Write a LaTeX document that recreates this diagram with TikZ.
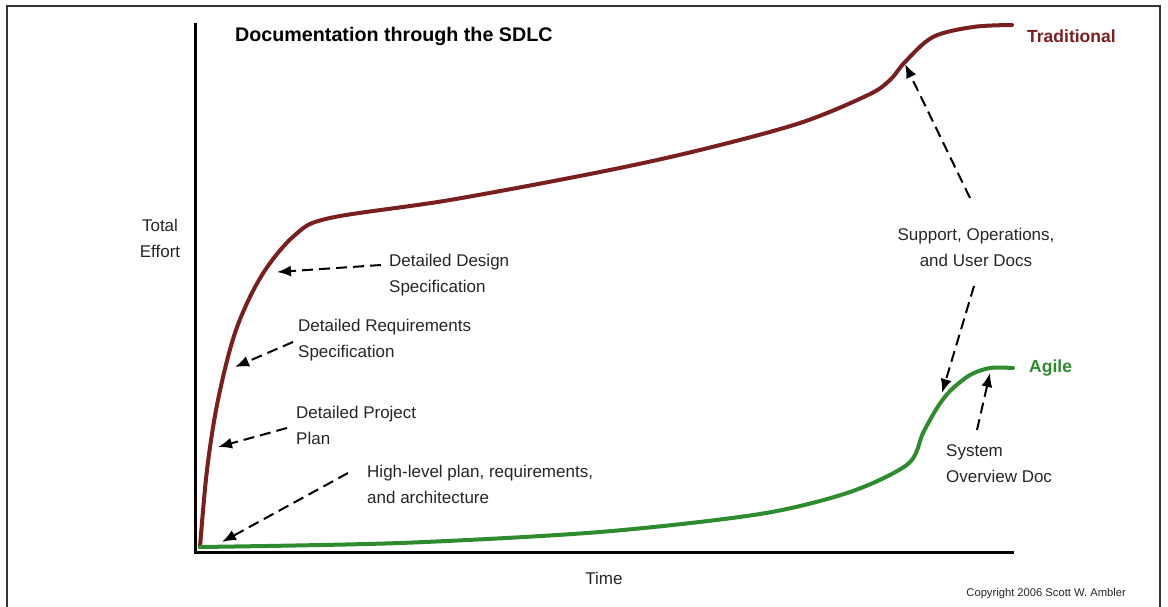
\documentclass[tikz,border=0pt]{standalone}
\usepackage{fontspec}
\setmainfont{Liberation Sans}
\usetikzlibrary{arrows.meta}
\definecolor{tradred}{HTML}{7A1F1F}
\definecolor{agilegreen}{HTML}{2E8B2E}
\definecolor{framegray}{HTML}{333333}
\begin{document}
\begin{tikzpicture}[x=1pt,y=-1pt,
  lbl/.style={align=left,inner sep=0pt,font=\fontsize{17}{26}\selectfont,text=black!85},
  callout/.style={draw=black,line width=2pt,dash pattern=on 11pt off 6pt,
    -{Latex[length=14pt,width=11pt]}},
  curve/.style={line width=4pt,line cap=round}]
\useasboundingbox (0,0) rectangle (1168,607);
% outer frame
\draw[framegray,line width=2pt] (7,612) -- (7,6) -- (1160,6) -- (1160,612);
% axes
\draw[line width=3pt] (195,23) -- (195,552) -- (1014,552);
% traditional curve
\draw[curve,tradred] plot[smooth,tension=0.55] coordinates {
  (200,547) (207,470) (218,400) (236,330) (262,275) (295,235) (330,218)
  (450,200) (600,172) (700,150) (800,123) (868,95) (890,80) (905,62)
  (933,37) (973,27) (1012,25)};
% agile curve
\draw[curve,agilegreen] plot[smooth,tension=0.5] coordinates {
  (200,547) (400,543) (600,532) (760,514) (850,492) (908,464)
  (923,433) (937,408) (950,391) (970,375) (990,368) (1013,368)};
% points on the curves that the callouts point at
\coordinate (tipPlan) at (218,447);
\coordinate (tipReq) at (235,367);
\coordinate (tipDes) at (277,272);
\coordinate (tipHigh) at (222,542);
\coordinate (tipTrad) at (905,64);
\coordinate (tipAgile) at (942,393);
\coordinate (tipSys) at (990,373);
% texts
\node[anchor=west,inner sep=0pt,font=\fontsize{19.7}{22}\selectfont\bfseries] (title) at (235,36) {Documentation through the SDLC};
\node[anchor=west,inner sep=0pt,font=\fontsize{17.5}{20}\selectfont\bfseries,text=tradred] (trad) at (1027,36) {Traditional};
\node[anchor=west,inner sep=0pt,font=\fontsize{17.5}{20}\selectfont\bfseries,text=agilegreen] (agile) at (1029,368) {Agile};
\node[lbl,align=center] (effort) at (160,238) {Total\\Effort};
\node[lbl] (time) at (604,578) {Time};
\node[lbl,anchor=west] (des) at (389,275) {Detailed Design\\Specification};
\node[lbl,anchor=west] (req) at (298,340) {Detailed Requirements\\Specification};
\node[lbl,anchor=west] (plan) at (296,425) {Detailed Project\\Plan};
\node[lbl,anchor=west] (high) at (367,484) {High-level plan, requirements,\\and architecture};
\node[lbl,align=center] (sup) at (976,247) {Support, Operations,\\and User Docs};
\node[lbl,anchor=west] (sys) at (946,464) {System\\Overview Doc};
\node[anchor=east,inner sep=0pt,font=\fontsize{11.2}{13}\selectfont,text=black!85] (copy) at (1126,594) {Copyright 2006 Scott W. Ambler};
% callouts
\coordinate (tDes) at (381,265);
\coordinate (tReq) at (293,342);
\coordinate (tPlan) at (287,428);
\coordinate (tHigh) at (348,473);
\coordinate (tSupA) at (970,198);
\coordinate (tSupB) at (974,286);
\coordinate (tSys) at (977,430);
\draw[callout] (tDes) -- (tipDes);
\draw[callout] (tReq) -- (tipReq);
\draw[callout] (tPlan) -- (tipPlan);
\draw[callout] (tHigh) -- (tipHigh);
\draw[callout] (tSupA) -- (tipTrad);
\draw[callout] (tSupB) -- (tipAgile);
\draw[callout] (tSys) -- (tipSys);
\end{tikzpicture}
\end{document}
